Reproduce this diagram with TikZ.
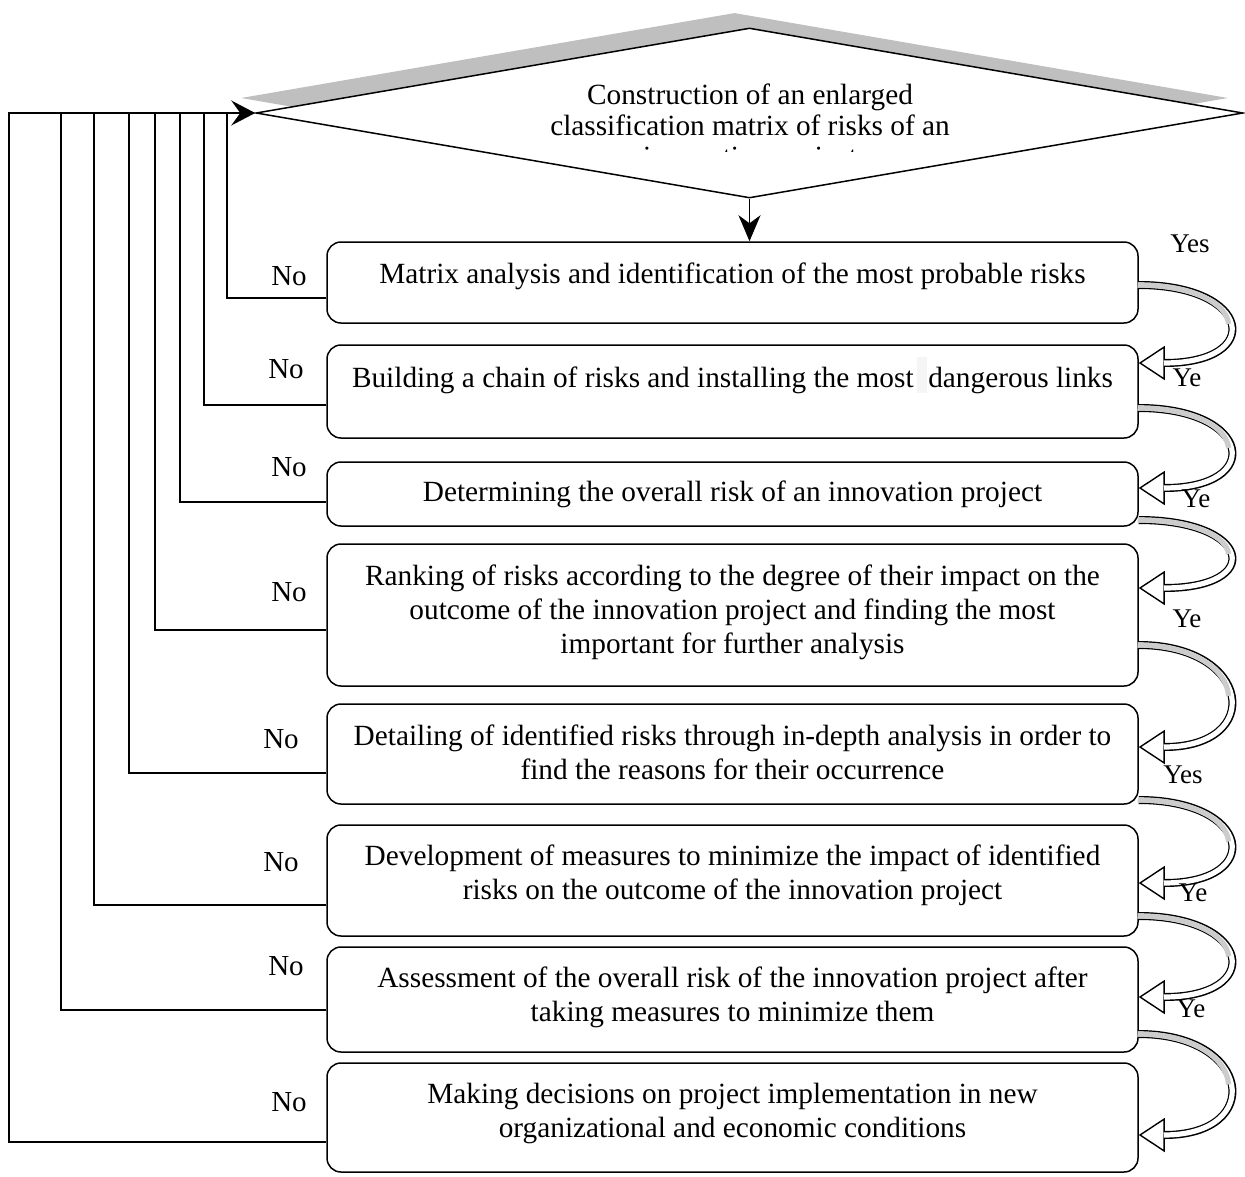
\documentclass[tikz,border=0pt]{standalone}
\usepackage{fontspec}
\setmainfont{Liberation Serif}
\usetikzlibrary{arrows.meta,shapes.geometric,calc}
\newcommand\yesarrow[4]{%
  \coordinate (ys) at (#1.east |- 0,#3);
  \coordinate (ye) at (#2.east |- 0,#4);
  \coordinate (yc1) at (1252,#3);
  \coordinate (yc2) at (1265,#4);
  \draw[yesshaft] (ys) .. controls (yc1) and (yc2) .. (ye);
  \draw[yeswhite] (ys) .. controls (yc1) and (yc2) .. (ye);
  \draw[yesgray] (ys) .. controls ($(ys)!0.5!(yc1)$) and ($0.25*(ys)+0.5*(yc1)+0.25*(yc2)$) .. ($0.125*(ys)+0.375*(yc1)+0.375*(yc2)+0.125*(ye)$);
}
\begin{document}
\begin{tikzpicture}[x=1pt,y=-1pt,
  box/.style={draw, line width=1.5pt, rounded corners=14pt, minimum width=811pt, inner sep=0pt},
  txt/.style={align=center, inner sep=0pt, font=\fontsize{29.3}{34}\selectfont},
  lbl/.style={inner sep=0pt, font=\fontsize{29}{30}\selectfont},
  ylbl/.style={inner sep=0pt, font=\fontsize{27}{28}\selectfont},
  conn/.style={line width=1.5pt},
  yesshaft/.style={line width=8pt, -{Triangle[open,length=26pt,width=34pt,line width=1.4pt]}},
  yeswhite/.style={line width=5.2pt, draw=white, shorten >=25pt, shorten <=-1pt},
  yesgray/.style={line width=5.2pt, draw=gray!40, shorten <=-1pt},
  shadowd/.style={diamond, fill=gray!50, minimum width=987pt, minimum height=170pt, inner sep=0pt},
  decis/.style={diamond, draw, fill=white, line width=1.5pt, minimum width=987pt, minimum height=170pt, inner sep=0pt}
  ]
\useasboundingbox (0,0) rectangle (1245,1176);

% decision diamond with shadow
\node[shadowd] (ds) at (734.5,98) {};
\node[decis] (d) at (749.5,113) {};
\begin{scope}
  \clip (0,0) rectangle (1245,151);
  \node[txt, font=\fontsize{29.3}{31}\selectfont] (dt) at (750,128) {Construction of an enlarged\\classification matrix of risks of an\\innovation project};
\end{scope}

% boxes
\node[box, minimum height=81pt]  (b1) at (732.5,282.5) {};
\node[box, minimum height=93pt]  (b2) at (732.5,391.5) {};
\node[box, minimum height=64pt]  (b3) at (732.5,494) {};
\node[box, minimum height=142pt] (b4) at (732.5,615) {};
\node[box, minimum height=100pt] (b5) at (732.5,754) {};
\node[box, minimum height=111pt] (b6) at (732.5,880.5) {};
\node[box, minimum height=105pt] (b7) at (732.5,999.5) {};
\node[box, minimum height=109pt] (b8) at (732.5,1117.5) {};

\fill[gray!8] (917,357) rectangle (927,393);

\node[txt] (t1) at (732.5,276) {Matrix analysis and identification of the most probable risks};
\node[txt] (t2) at (732.5,380) {Building a chain of risks and installing the most\ \ dangerous links};
\node[txt] (t3) at (732.5,494) {Determining the overall risk of an innovation project};
\node[txt] (t4) at (732.5,612) {Ranking of risks according to the degree of their impact on the\\outcome of the innovation project and finding the most\\important for further analysis};
\node[txt] (t5) at (732.5,752) {Detailing of identified risks through in-depth analysis in order to\\find the reasons for their occurrence};
\node[txt] (t6) at (732.5,875) {Development of measures to minimize the impact of identified\\risks on the outcome of the innovation project};
\node[txt] (t7) at (732.5,997) {Assessment of the overall risk of the innovation project after\\taking measures to minimize them};
\node[txt] (t8) at (732.5,1113) {Making decisions on project implementation in new\\organizational and economic conditions};

% No labels
\node[lbl] (n1) at (289,276) {No};
\node[lbl] (n2) at (286,369) {No};
\node[lbl] (n3) at (289,467) {No};
\node[lbl] (n4) at (289,592) {No};
\node[lbl] (n5) at (281,739) {No};
\node[lbl] (n6) at (281,862) {No};
\node[lbl] (n7) at (286,966) {No};
\node[lbl] (n8) at (289,1102) {No};

% feedback loops
\draw[conn] (b1.west |- 0,298) -| (227,113);
\draw[conn] (b2.west |- 0,405) -| (204,113);
\draw[conn] (b3.west |- 0,502) -| (180,113);
\draw[conn] (b4.west |- 0,630) -| (155,113);
\draw[conn] (b5.west |- 0,773) -| (129,113);
\draw[conn] (b6.west |- 0,905) -| (94,113);
\draw[conn] (b7.west |- 0,1010) -| (61,113);
\draw[conn, -{Stealth[length=24pt,width=25pt,inset=9pt]}] (b8.west |- 0,1142) -| (9,113) -- (d.west);

% down arrow
\draw[conn, -{Stealth[length=26pt,width=22pt,inset=8pt]}] (d.south) -- (d.south |- b1.north);

% Yes arrows
\yesarrow{b1}{b2}{285}{363}
\yesarrow{b2}{b3}{408}{488}
\yesarrow{b3}{b4}{520}{588}
\yesarrow{b4}{b5}{645}{747}
\yesarrow{b5}{b6}{800}{883}
\yesarrow{b6}{b7}{916}{997}
\yesarrow{b7}{b8}{1034}{1135}

% Yes labels
\node[ylbl] (y1) at (1190,244) {Yes};
\node[ylbl] (y2) at (1187,378) {Ye};
\node[ylbl] (y3) at (1196,499) {Ye};
\node[ylbl] (y4) at (1187,619) {Ye};
\node[ylbl] (y5) at (1183,775) {Yes};
\node[ylbl] (y6) at (1193,893) {Ye};
\node[ylbl] (y7) at (1191,1009) {Ye};
\end{tikzpicture}
\end{document}
